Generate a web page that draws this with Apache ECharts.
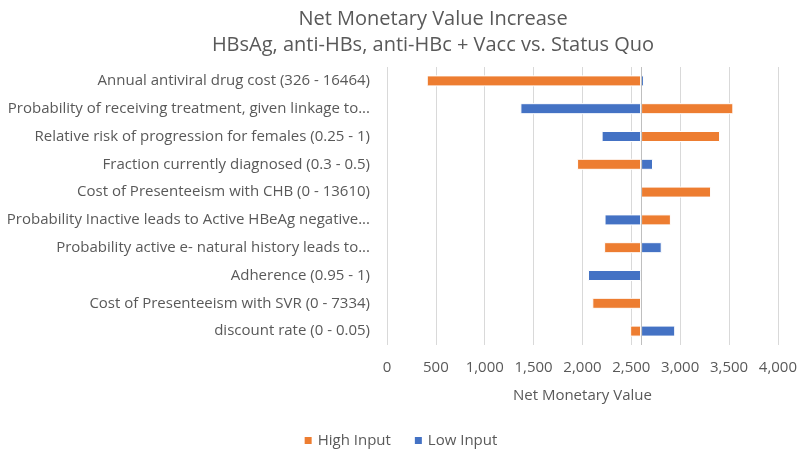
<!DOCTYPE html>
<html>
<head>
<meta charset="utf-8">
<script src="https://cdn.jsdelivr.net/npm/echarts@6/dist/echarts.min.js"></script>
<style>html,body{margin:0;padding:0;background:#fff}#c{width:800px;height:450px}</style>
</head>
<body>
<div id="c"></div>
<script>
const categories = [
  "Annual antiviral drug cost (326 - 16464)",
  "Probability of receiving treatment, given linkage to...",
  "Relative risk of progression for females (0.25 - 1)",
  "Fraction currently diagnosed (0.3 - 0.5)",
  "Cost of Presenteeism with CHB (0 - 13610)",
  "Probability Inactive leads to Active HBeAg negative...",
  "Probability active e- natural history leads to...",
  "Adherence (0.95 - 1)",
  "Cost of Presenteeism with SVR (0 - 7334)",
  "discount rate (0 - 0.05)"
];
const baseValue = 2600;
const highInput = [407, 3544, 3408, 1945, 3316, 2905, 2222, 2600, 2101, 2488];
const lowInput = [2630, 1365, 2196, 2722, 2600, 2226, 2811, 2057, 2600, 2949];
const xTicks = { min: 0, max: 4000, interval: 500 };

const FONT = "Open Sans";
const TXT = "#595959";
const ORANGE = "#ED7D31";
const BLUE = "#4472C4";

function offsets(arr) { return arr.map(v => Math.min(v, baseValue)); }
function lengths(arr) { return arr.map(v => Math.abs(v - baseValue)); }

const chart = echarts.init(document.getElementById('c'), null, { renderer: 'canvas' });
chart.setOption({
  animation: false,
  textStyle: { fontFamily: FONT, color: TXT },
  title: {
    text: "Net Monetary Value Increase\nHBsAg, anti-HBs, anti-HBc + Vacc vs. Status Quo",
    left: 428, top: 1, textAlign: 'center',
    textStyle: { fontFamily: FONT, fontSize: 20, fontWeight: 'normal', color: TXT, lineHeight: 26 }
  },
  legend: {
    data: ["High Input", "Low Input"],
    bottom: -3, left: 'center',
    icon: 'rect', itemWidth: 9, itemHeight: 9, itemGap: 22,
    textStyle: { fontFamily: FONT, fontSize: 15, color: TXT }
  },
  grid: { left: 387, right: 20, top: 67, bottom: 105, containLabel: false },
  xAxis: {
    type: 'value', min: xTicks.min, max: xTicks.max, interval: xTicks.interval,
    name: "Net Monetary Value", nameLocation: 'middle', nameGap: 43,
    nameTextStyle: { fontFamily: FONT, fontSize: 15, color: TXT },
    axisLine: { show: false }, axisTick: { show: false },
    axisLabel: { fontFamily: FONT, fontSize: 15, color: TXT, margin: 15,
      formatter: v => v.toLocaleString('en-US') },
    splitLine: { show: true, lineStyle: { color: '#d9d9d9', width: 1 } }
  },
  yAxis: {
    type: 'category', data: categories, inverse: true,
    axisLine: { show: false }, axisTick: { show: false },
    axisLabel: { fontFamily: FONT, fontSize: 15, color: TXT, margin: 17 }
  },
  series: [
    { name: 'hOff', type: 'bar', stack: 'h', data: offsets(highInput), itemStyle: { color: 'transparent' }, barWidth: 11, barGap: '-100%', silent: true },
    { name: 'High Input', type: 'bar', stack: 'h', data: lengths(highInput), itemStyle: { color: ORANGE, borderColor: '#fff', borderWidth: 1 }, barWidth: 11, barGap: '-100%',
      markLine: { silent: true, symbol: 'none', label: { show: false }, lineStyle: { color: '#bfbfbf', type: 'solid', width: 1 }, data: [{ xAxis: baseValue }] } },
    { name: 'lOff', type: 'bar', stack: 'l', data: offsets(lowInput), itemStyle: { color: 'transparent' }, barWidth: 11, barGap: '-100%', silent: true },
    { name: 'Low Input', type: 'bar', stack: 'l', data: lengths(lowInput), itemStyle: { color: BLUE, borderColor: '#fff', borderWidth: 1 }, barWidth: 11, barGap: '-100%' }
  ]
});
</script>
</body>
</html>
